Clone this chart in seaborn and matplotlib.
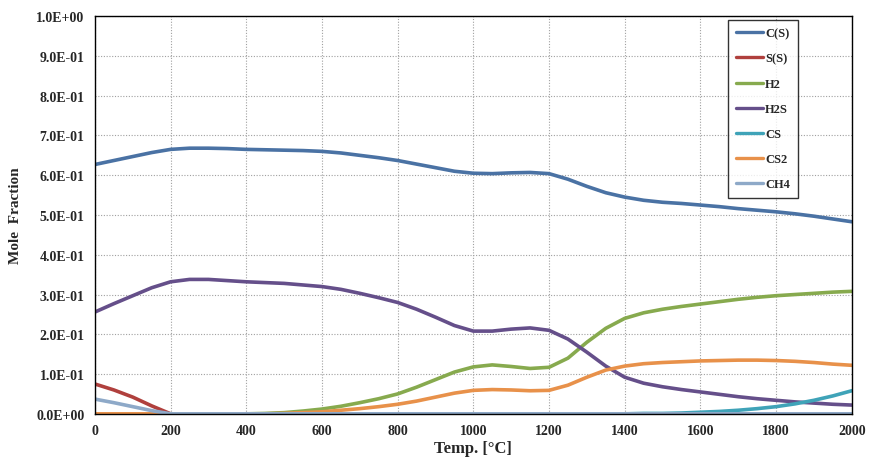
import numpy as np
import pandas as pd
import matplotlib
matplotlib.use("Agg")
import matplotlib.pyplot as plt
import seaborn as sns
from matplotlib.ticker import MultipleLocator, FuncFormatter

# temperatures [°C], every 50 degrees
temp = [0, 50, 100, 150, 200, 250, 300, 350, 400, 450, 500, 550, 600, 650, 700,
        750, 800, 850, 900, 950, 1000, 1050, 1100, 1150, 1200, 1250, 1300, 1350,
        1400, 1450, 1500, 1550, 1600, 1650, 1700, 1750, 1800, 1850, 1900, 1950, 2000]

c_s = [0.627, 0.637, 0.647, 0.657, 0.665, 0.668, 0.668, 0.667, 0.665, 0.664, 0.663,
       0.662, 0.660, 0.656, 0.650, 0.644, 0.637, 0.628, 0.619, 0.610, 0.605, 0.604,
       0.606, 0.607, 0.604, 0.590, 0.572, 0.556, 0.545, 0.537, 0.532, 0.529, 0.525,
       0.521, 0.516, 0.512, 0.508, 0.503, 0.497, 0.490, 0.483]
s_s = [0.075, 0.060, 0.042, 0.020, 0.000, 0.000, 0.000, 0.000, 0.000, 0.000, 0.000,
       0.000, 0.000, 0.000, 0.000, 0.000, 0.000, 0.000, 0.000, 0.000, 0.000, 0.000,
       0.000, 0.000, 0.000, 0.000, 0.000, 0.000, 0.000, 0.000, 0.000, 0.000, 0.000,
       0.000, 0.000, 0.000, 0.000, 0.000, 0.000, 0.000, 0.000]
h2 = [0.000, 0.000, 0.000, 0.000, 0.000, 0.000, 0.000, 0.000, 0.000, 0.001, 0.003,
      0.007, 0.012, 0.019, 0.028, 0.038, 0.050, 0.067, 0.086, 0.105, 0.118, 0.123,
      0.119, 0.114, 0.117, 0.140, 0.180, 0.215, 0.240, 0.254, 0.263, 0.270, 0.276,
      0.282, 0.288, 0.293, 0.297, 0.300, 0.303, 0.306, 0.308]
h2s = [0.256, 0.277, 0.297, 0.317, 0.332, 0.338, 0.338, 0.335, 0.332, 0.330, 0.328,
       0.324, 0.320, 0.313, 0.303, 0.292, 0.280, 0.263, 0.243, 0.222, 0.208, 0.208,
       0.213, 0.216, 0.210, 0.188, 0.155, 0.120, 0.092, 0.077, 0.068, 0.061, 0.055,
       0.049, 0.043, 0.038, 0.034, 0.030, 0.027, 0.024, 0.022]
cs = [0.000, 0.000, 0.000, 0.000, 0.000, 0.000, 0.000, 0.000, 0.000, 0.000, 0.000,
      0.000, 0.000, 0.000, 0.000, 0.000, 0.000, 0.000, 0.000, 0.000, 0.000, 0.000,
      0.000, 0.000, 0.000, 0.000, 0.000, 0.000, 0.000, 0.001, 0.001, 0.002, 0.004,
      0.006, 0.009, 0.013, 0.018, 0.025, 0.034, 0.045, 0.058]
cs2 = [0.000, 0.000, 0.000, 0.000, 0.000, 0.000, 0.000, 0.000, 0.000, 0.000, 0.001,
       0.003, 0.005, 0.009, 0.013, 0.018, 0.024, 0.032, 0.042, 0.052, 0.059, 0.061,
       0.060, 0.058, 0.059, 0.072, 0.092, 0.110, 0.120, 0.126, 0.129, 0.131, 0.133,
       0.134, 0.135, 0.135, 0.134, 0.132, 0.129, 0.125, 0.122]
ch4 = [0.037, 0.028, 0.018, 0.008, 0.000, 0.000, 0.000, 0.000, 0.000, 0.000, 0.000,
       0.000, 0.000, 0.000, 0.000, 0.000, 0.000, 0.000, 0.000, 0.000, 0.000, 0.000,
       0.000, 0.000, 0.000, 0.000, 0.000, 0.000, 0.000, 0.000, 0.000, 0.000, 0.000,
       0.000, 0.000, 0.000, 0.000, 0.000, 0.000, 0.000, 0.000]

species = ["C(S)", "S(S)", "H2", "H2S", "CS", "CS2", "CH4"]
colors  = ["#4A72A4", "#B0403D", "#87AA4E", "#654F8A", "#3FA3B8", "#E8914A", "#8EA9C8"]

df = pd.DataFrame({"temp": temp, "C(S)": c_s, "S(S)": s_s, "H2": h2, "H2S": h2s,
                   "CS": cs, "CS2": cs2, "CH4": ch4})
long = df.melt(id_vars="temp", var_name="species", value_name="frac")

sns.set_style("white")
plt.rcParams["font.family"] = ["Liberation Serif", "DejaVu Serif"]
plt.rcParams["font.weight"] = "bold"

fig = plt.figure(figsize=(8.79, 4.64), dpi=100)
ax = fig.add_axes([0.108, 0.106, 0.861, 0.857])

sns.lineplot(data=long, x="temp", y="frac", hue="species", hue_order=species,
             palette=dict(zip(species, colors)), lw=2.6, ax=ax, legend=False)
for ln in ax.lines:
    ln.set_solid_joinstyle("round")
    ln.set_solid_capstyle("round")

ax.set_xlim(0, 2000)
ax.set_ylim(0, 1.0)
ax.xaxis.set_major_locator(MultipleLocator(200))
ax.yaxis.set_major_locator(MultipleLocator(0.1))
ax.yaxis.set_major_formatter(FuncFormatter(lambda v, p: "{:.1E}".format(v)))
ax.grid(True, ls=(0, (1, 1.5)), lw=0.8, color="#a0a0a0")
for s in ax.spines.values():
    s.set_color("black")
    s.set_linewidth(1.0)
ax.tick_params(axis="both", labelsize=10, length=4, direction="out", color="#888888")
for lab in ax.get_xticklabels() + ax.get_yticklabels():
    lab.set_fontweight("bold")

ax.set_xlabel("Temp. [°C]", fontsize=12, fontweight="bold", labelpad=2)
ax.set_ylabel("Mole  Fraction", fontsize=11, fontweight="bold", labelpad=10)

handles = [plt.Line2D([], [], color=c, lw=2.4) for c in colors]
leg = ax.legend(handles, species, loc="upper left", bbox_to_anchor=(0.837, 0.99),
                frameon=True, fancybox=False, edgecolor="black", fontsize=9,
                labelspacing=1.05, handlelength=2.2, handletextpad=0.15,
                borderpad=0.6, borderaxespad=0)
leg.get_frame().set_linewidth(1.0)
for t in leg.get_texts():
    t.set_fontweight("bold")

fig.savefig("out.png", dpi=100)
